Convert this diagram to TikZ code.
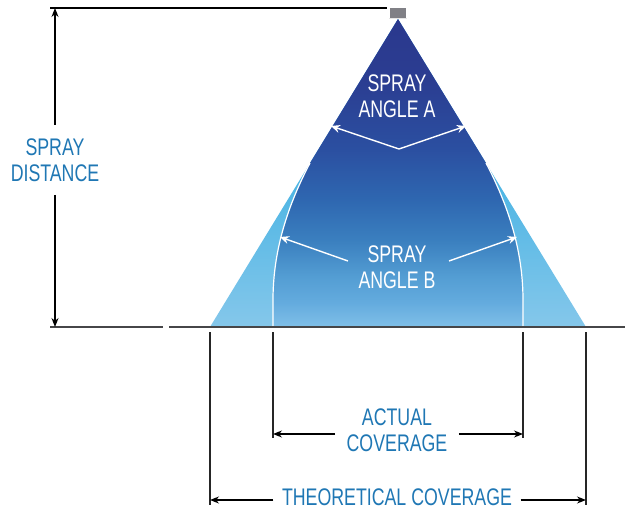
\documentclass[tikz,border=0pt]{standalone}
\usepackage{fontspec}
\setmainfont{Liberation Sans}[FakeStretch=0.74]
\usetikzlibrary{arrows.meta}

\definecolor{labelblue}{RGB}{31,119,180}
\definecolor{groundgray}{RGB}{70,70,72}
\definecolor{nozzlegray}{RGB}{128,128,134}

% 25bp = ground line, 75bp = nozzle
\pgfdeclareverticalshading{coreshade}{100bp}{
  rgb(0bp)=(0.50,0.75,0.91); rgb(25bp)=(0.50,0.75,0.91); rgb(29bp)=(0.39,0.67,0.87);
  rgb(33bp)=(0.33,0.62,0.83); rgb(39bp)=(0.23,0.50,0.75); rgb(46bp)=(0.18,0.40,0.69);
  rgb(54bp)=(0.17,0.31,0.63); rgb(65bp)=(0.17,0.24,0.57); rgb(75bp)=(0.165,0.22,0.555);
  rgb(100bp)=(0.165,0.22,0.555)}
\pgfdeclareverticalshading{wingshade}{100bp}{
  rgb(0bp)=(0.52,0.78,0.92); rgb(25bp)=(0.52,0.78,0.92); rgb(52bp)=(0.27,0.70,0.89);
  rgb(75bp)=(0.15,0.60,0.85); rgb(100bp)=(0.15,0.60,0.85)}

\tikzset{
  dimline/.style = { line width = 1.3pt, -{Stealth[length = 9pt, width = 7pt]} },
  angleline/.style = { white, line width = 1.4pt, -{Stealth[length = 9pt, width = 8pt]} },
  extline/.style = { line width = 1.2pt, draw = black!85 }
}

\begin{document}
\begin{tikzpicture}[x = 1pt, y = -1pt, line width = 1.3pt, font = \fontsize{24}{26}\selectfont, every node/.style = { inner sep = 0pt, align = center, text = labelblue }]
  \useasboundingbox (0, 0) rectangle (625, 511);

  % spray cone
  \coordinate (apex) at (398, 19);
  \coordinate (baseL) at (210, 327);
  \coordinate (baseR) at (586, 327);
  \coordinate (splitL) at (310, 163);
  \coordinate (splitR) at (486, 163);
  \coordinate (footL) at (273, 327);
  \coordinate (footR) at (523, 327);

  \shade [shading = wingshade] (apex) -- (baseL) -- (baseR) -- cycle;
  \shade [shading = coreshade]
    (apex) -- (splitL) .. controls (288, 205) and (273, 250) .. (273, 300) -- (footL)
    -- (footR) -- (523, 300) .. controls (523, 250) and (508, 205) .. (splitR) -- cycle;
  \draw [white, line width = 1.2pt] (splitL) .. controls (288, 205) and (273, 250) .. (273, 300) -- (footL);
  \draw [white, line width = 1.2pt] (splitR) .. controls (508, 205) and (523, 250) .. (523, 300) -- (footR);

  % nozzle
  \node [fill = nozzlegray, minimum width = 16pt, minimum height = 10pt] (nozzle) at (398, 13) {};
  \draw [white!80!gray, line width = 1pt] (nozzle.south west) -- (nozzle.south east);

  % top and ground lines
  \coordinate (topL) at (50, 8);
  \coordinate (topR) at (387, 8);
  \draw (topL) -- (topR);
  \coordinate (groundL) at (50, 327);
  \coordinate (groundM) at (163, 327);
  \coordinate (groundN) at (169, 327);
  \coordinate (groundR) at (625, 327);
  \draw [groundgray, line width = 1.8pt] (groundL) -- (groundM);
  \draw [groundgray, line width = 1.8pt] (groundN) -- (groundR);

  % spray distance
  \node [inner ysep = 10pt] (distance) at (55, 160) {SPRAY\\DISTANCE};
  \coordinate (distTop) at (55, 8);
  \coordinate (distBot) at (55, 327);
  \draw [dimline] (distance.north |- 0, 125) -- (distTop);
  \draw [dimline] (distance.south |- 0, 195) -- (distBot);

  % spray angle A
  \node [text = white] (angleA) at (397, 96) {SPRAY\\ANGLE A};
  \coordinate (angleAV) at (399, 149);
  \coordinate (angleAL) at (331, 126);
  \coordinate (angleAR) at (466, 126);
  \draw [angleline] (angleAV) -- (angleAL);
  \draw [angleline] (angleAV) -- (angleAR);

  % spray angle B
  \node [text = white] (angleB) at (397, 267) {SPRAY\\ANGLE B};
  \coordinate (angleBLt) at (348, 261);
  \coordinate (angleBRt) at (449, 261);
  \coordinate (angleBL) at (280, 237);
  \coordinate (angleBR) at (517, 237);
  \draw [angleline] (angleBLt) -- (angleBL);
  \draw [angleline] (angleBRt) -- (angleBR);

  % extension lines
  \coordinate (extA) at (210, 332);
  \coordinate (extB) at (273, 332);
  \coordinate (extC) at (523, 332);
  \coordinate (extD) at (586, 332);
  \draw [extline] (extA) -- ++(0, 173);
  \draw [extline] (extB) -- ++(0, 106);
  \draw [extline] (extC) -- ++(0, 106);
  \draw [extline] (extD) -- ++(0, 173);

  % actual coverage
  \node [inner xsep = 11pt] (actual) at (397, 430) {ACTUAL\\COVERAGE};
  \coordinate (actualL) at (273, 434);
  \coordinate (actualR) at (523, 434);
  \draw [dimline] (actual.west |- actualL) -- (actualL);
  \draw [dimline] (actual.east |- actualR) -- (actualR);

  % theoretical coverage
  \node [inner xsep = 8pt] (theoretical) at (397, 497) {THEORETICAL COVERAGE};
  \coordinate (theoL) at (210, 500);
  \coordinate (theoR) at (586, 500);
  \draw [dimline] (theoretical.west |- theoL) -- (theoL);
  \draw [dimline] (theoretical.east |- theoR) -- (theoR);
\end{tikzpicture}
\end{document}
